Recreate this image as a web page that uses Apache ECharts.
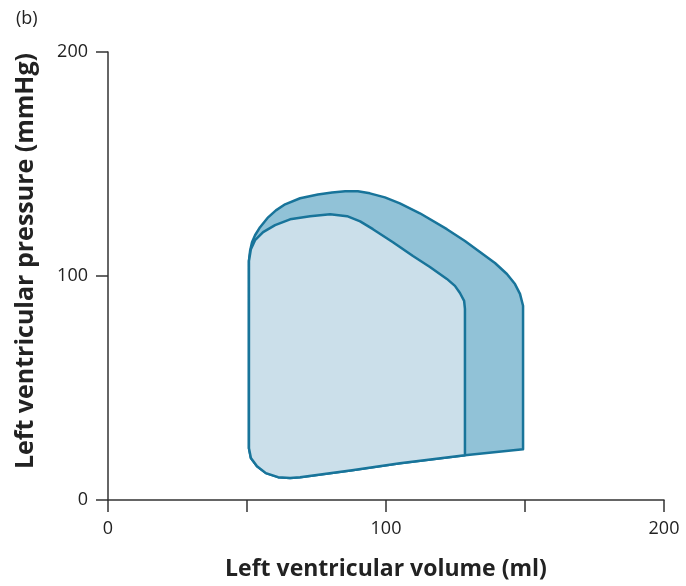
<!DOCTYPE html>
<html>
<head>
<meta charset="utf-8">
<script src="https://cdn.jsdelivr.net/npm/echarts@6/dist/echarts.min.js"></script>
<style>
  html, body { margin: 0; padding: 0; background: #fff; }
  #chart { width: 686px; height: 586px; }
</style>
</head>
<body>
<div id="chart"></div>
<script>
// pressure-volume loop, outer (larger stroke volume) and inner
const outerVolume = [50.7, 50.7, 51.1, 51.8, 52.9, 54.7, 57.6, 60.4, 63.7, 69.1, 75.5, 80.6, 85.3, 89.9, 94.2, 99.6, 105.0, 112.2, 121.9, 128.4, 133.8, 139.2, 143.5, 146.4, 148.2, 149.3, 149.3, 128.4, 105.0, 87.8, 69.1, 65.5, 61.2, 56.8, 53.6, 51.4, 50.7]
const outerPressure = [89.8, 106.7, 111.1, 115.1, 118.2, 121.8, 126.2, 129.3, 132.0, 134.7, 136.4, 137.3, 137.8, 137.8, 136.9, 135.1, 132.4, 128.0, 120.9, 115.6, 110.7, 105.8, 100.9, 96.4, 92.0, 86.7, 22.7, 20.0, 16.4, 13.3, 10.2, 9.8, 10.2, 12.0, 15.1, 18.7, 23.1]

const innerVolume = [50.7, 50.7, 51.4, 52.9, 55.8, 60.1, 65.5, 72.7, 79.9, 86.0, 90.7, 95.3, 102.5, 109.7, 115.8, 121.9, 124.8, 126.6, 128.1, 128.4, 128.4, 105.0, 87.8, 69.1, 65.5, 61.2, 56.8, 53.6, 51.4, 50.7]
const innerPressure = [89.8, 106.7, 112.0, 116.0, 119.6, 122.7, 125.3, 126.7, 127.6, 126.7, 124.4, 120.9, 115.1, 108.9, 104.0, 98.7, 95.6, 92.4, 88.9, 85.3, 20.0, 16.4, 13.3, 10.2, 9.8, 10.2, 12.0, 15.1, 18.7, 23.1]

const xTicks = [0, 200, 50]   // min, max, interval
const yTicks = [0, 200, 100]

const chart = echarts.init(document.getElementById('chart'))

function loopItem(vols, pres, fill) {
  return function (params, api) {
    const pts = vols.map((v, i) => api.coord([v, pres[i]]))
    return {
      type: 'polygon',
      shape: { points: pts },
      style: {
        fill: fill,
        stroke: '#18749a',
        lineWidth: 2.5,
        lineJoin: 'round'
      }
    }
  }
}

const axisCommon = {
  axisLine: { show: true, lineStyle: { color: '#333', width: 1.5 } },
  axisTick: { show: true, inside: false, length: 12, lineStyle: { color: '#333', width: 1.5 } },
  splitLine: { show: false },
  axisLabel: { color: '#222', fontSize: 18, fontFamily: 'Open Sans', margin: 20 },
  nameTextStyle: { color: '#222', fontSize: 23, fontWeight: 'bold', fontFamily: 'Open Sans' }
}

chart.setOption({
  animation: false,
  title: {
    text: '(b)',
    left: 11,
    top: 5,
    textStyle: { color: '#222', fontSize: 18, fontWeight: 'normal', fontFamily: 'Open Sans' }
  },
  grid: { left: 108, right: 22, top: 52, bottom: 84 },
  xAxis: Object.assign({}, axisCommon, {
    type: 'value',
    min: xTicks[0],
    max: xTicks[1],
    interval: xTicks[2],
    name: 'Left ventricular volume (ml)',
    nameLocation: 'middle',
    nameGap: 58,
    axisLabel: Object.assign({}, axisCommon.axisLabel, {
      formatter: v => (v % 100 === 0 ? String(v) : '')
    })
  }),
  yAxis: Object.assign({}, axisCommon, {
    type: 'value',
    min: yTicks[0],
    max: yTicks[1],
    interval: yTicks[2],
    name: 'Left ventricular pressure (mmHg)',
    nameLocation: 'middle',
    nameGap: 70,
    nameTextStyle: Object.assign({}, axisCommon.nameTextStyle, { fontSize: 25, padding: [0, 0, 0, 30] })
  }),
  series: [
    {
      type: 'custom',
      silent: true,
      clip: false,
      data: [0],
      renderItem: loopItem(outerVolume, outerPressure, '#91c2d7')
    },
    {
      type: 'custom',
      silent: true,
      clip: false,
      data: [0],
      renderItem: loopItem(innerVolume, innerPressure, '#cbdfea')
    }
  ]
})

window.addEventListener('resize', () => chart.resize())
</script>
</body>
</html>
